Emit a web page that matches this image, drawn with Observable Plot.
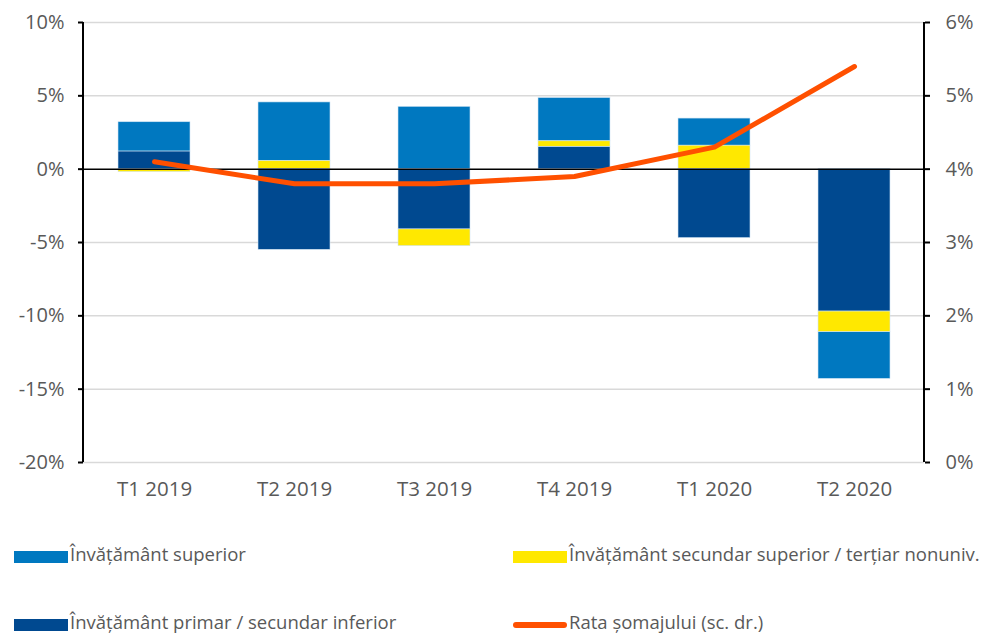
<!DOCTYPE html>
<html><head><meta charset="utf-8">
<script src="https://cdn.jsdelivr.net/npm/d3@7"></script>
<script src="https://cdn.jsdelivr.net/npm/@observablehq/plot@0.6"></script>
<style>
body{margin:0;background:#fff;font-family:"Open Sans",sans-serif;}
#wrap{position:relative;width:995px;height:636px;overflow:hidden;}
.leg{position:absolute;font-size:18.5px;color:#595959;white-space:nowrap;line-height:1;}
.sw{position:absolute;}
</style></head><body><div id="wrap"></div>
<script>
const quarters = ["T1 2019","T2 2019","T3 2019","T4 2019","T1 2020","T2 2020"];
const seriesNames = ["Învățământ superior","Învățământ secundar superior / terțiar nonuniv.","Învățământ primar / secundar inferior"];
const superior = [2.0, 4.0, 4.25, 2.95, 1.85, -3.2];
const secundar = [-0.2, 0.55, -1.15, 0.4, 1.6, -1.4];
const primar   = [1.2, -5.5, -4.1, 1.5, -4.7, -9.7];
const somaj    = [4.1, 3.8, 3.8, 3.9, 4.3, 5.4];
const lineName = "Rata șomajului (sc. dr.)";
const leftTicks = [-20,-15,-10,-5,0,5,10];
const rightTicks = [0,1,2,3,4,5,6];
const colors = ["#0078C0","#FFE800","#004990"];
const lineColor = "#FF5000";

const toLeft = r => (r - 4) * 5;
const table = [];
quarters.forEach((q,i) => {
  table.push({q, s: seriesNames[0], v: superior[i]});
  table.push({q, s: seriesNames[1], v: secundar[i]});
  table.push({q, s: seriesNames[2], v: primar[i]});
});
const lineData = quarters.map((q,i) => ({q, r: somaj[i]}));

const axisLines = (index, scales, values, dims) => {
  const g = d3.create("svg:g");
  const x0 = dims.marginLeft, x1 = dims.width - dims.marginRight;
  const y0 = dims.marginTop, y1 = dims.height - dims.marginBottom;
  [x0, x1].forEach(x => g.append("line").attr("x1", x).attr("x2", x).attr("y1", y0).attr("y2", y1)
    .attr("stroke", "black").attr("stroke-width", 2));
  return g.node();
};

const chart = Plot.plot({
  width: 995, height: 520,
  marginLeft: 83, marginRight: 71, marginTop: 22, marginBottom: 58,
  style: {fontFamily: '"Open Sans", sans-serif', fontSize: "20px", color: "#595959", background: "white"},
  x: {domain: quarters, paddingInner: 0.486, paddingOuter: 0.243, label: null},
  y: {domain: [-20, 10], label: null},
  color: {domain: seriesNames, range: colors},
  marks: [
    Plot.gridY(leftTicks.filter(d => d !== 0), {stroke: "#d9d9d9", strokeOpacity: 1, strokeWidth: 1.5}),
    Plot.barY(table, {x: "q", y: "v", fill: "s", order: [seriesNames[2], seriesNames[1], seriesNames[0]], inset: 0, stroke: "#cfe3f3", strokeWidth: 0.6}),
    Plot.ruleY([0], {stroke: "black", strokeWidth: 1.5}),
    Plot.line(lineData, {x: "q", y: d => toLeft(d.r), stroke: lineColor, strokeWidth: 5, curve: "linear", strokeLinecap: "round", strokeLinejoin: "round"}),
    Plot.axisY(leftTicks, {anchor: "left", tickSize: 5, tickPadding: 14, strokeWidth: 2, stroke: "black", tickFormat: d => d + "%", fontSize: 20, fill: "#595959"}),
    Plot.axisY(rightTicks.map(toLeft), {anchor: "right", tickSize: 5, tickPadding: 16, strokeWidth: 2, stroke: "black", tickFormat: d => Math.round(d / 5 + 4) + "%", fontSize: 20, fill: "#595959"}),
    Plot.axisX({tickSize: 0, tickPadding: 19, fontSize: 20.5, fill: "#595959"}),
    axisLines
  ]
});
const wrap = document.getElementById("wrap");
wrap.appendChild(chart);

const legendItems = [
  {label: seriesNames[0], color: colors[0], x: 14, y: 557, type: "rect"},
  {label: seriesNames[1], color: colors[1], x: 513, y: 557, type: "rect"},
  {label: seriesNames[2], color: colors[2], x: 14, y: 625, type: "rect"},
  {label: lineName, color: lineColor, x: 513, y: 625, type: "line"}
];
legendItems.forEach(it => {
  const sw = document.createElement("div");
  sw.className = "sw";
  sw.style.left = it.x + "px";
  sw.style.width = "54px";
  if (it.type === "rect") {
    sw.style.top = (it.y - 6) + "px"; sw.style.height = "12px";
  } else {
    sw.style.top = (it.y - 3) + "px"; sw.style.height = "6px"; sw.style.borderRadius = "3px";
  }
  sw.style.background = it.color;
  wrap.appendChild(sw);
  const t = document.createElement("div");
  t.className = "leg";
  t.textContent = it.label;
  t.style.left = (it.x + 56) + "px";
  t.style.top = (it.y - 12) + "px";
  wrap.appendChild(t);
});
</script></body></html>
